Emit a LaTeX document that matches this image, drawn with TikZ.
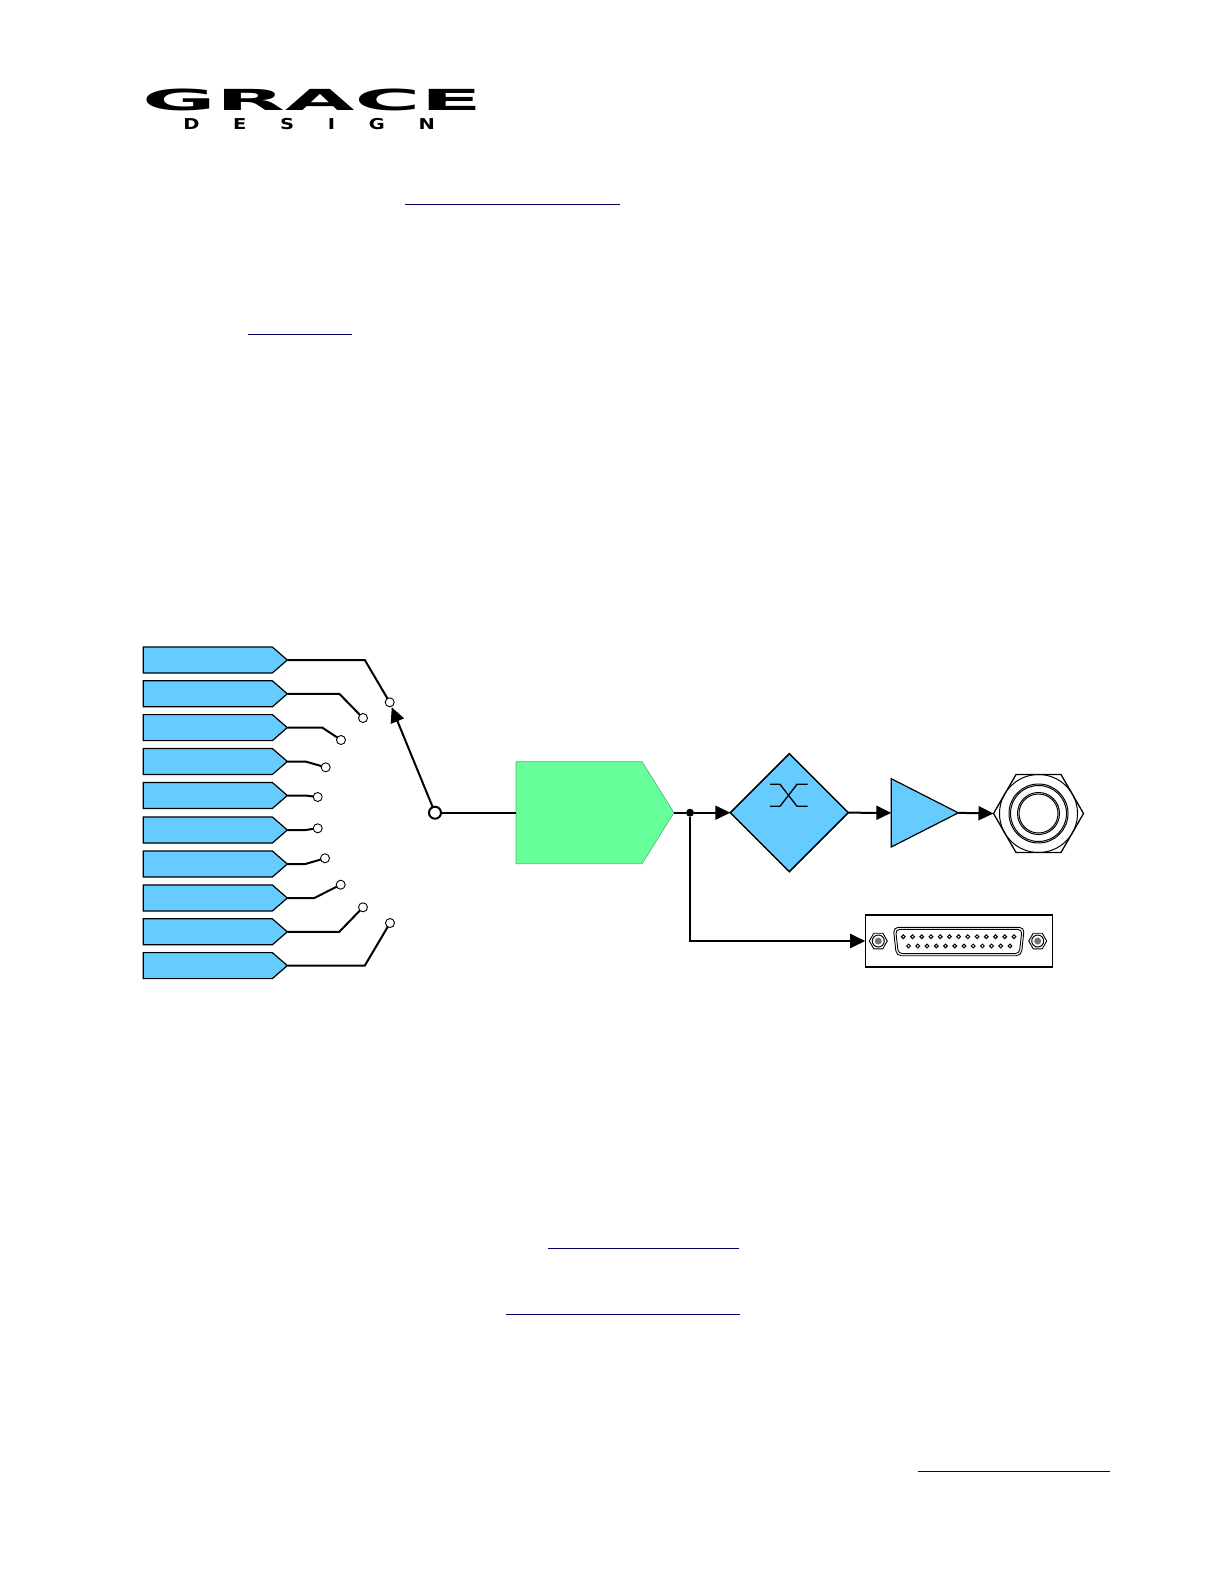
\documentclass[tikz,border=0pt]{standalone}
\usepackage{fontspec}
\usepackage{tikz}
\usetikzlibrary{positioning,shapes.geometric,shapes.symbols,arrows.meta,calc}
\newfontfamily\logofont{DejaVu Sans}
\newfontfamily\logospaced{DejaVu Sans}[LetterSpace=173]
\definecolor{ink}     {HTML}{000000}
\definecolor{skyfill} {HTML}{66CCFF}
\definecolor{mintfill}{HTML}{66FF99}
\definecolor{mintline}{HTML}{55B080}
\definecolor{linkline}{HTML}{000066}
\tikzset{
  >={Triangle[length=15pt,width=14pt]},
  x=1pt, y=-1pt,
  % --- nodes
  tag/.style     = {signal, signal to=east, signal pointer angle=82, draw=ink, fill=skyfill,
                    line width=1.2pt, minimum width=144pt, minimum height=26pt, anchor=west,
                    inner sep=0pt, outer sep=0pt},
  contact/.style = {circle, draw=ink, fill=white, line width=0.9pt, minimum size=9pt,
                    inner sep=0pt, outer sep=0pt},
  common/.style  = {contact, line width=2pt, minimum size=12pt},
  dsp/.style     = {signal, signal to=east, signal pointer angle=116, draw=mintline, fill=mintfill,
                    line width=0.6pt, minimum width=158pt, minimum height=102pt, anchor=west,
                    inner sep=0pt, outer sep=0pt},
  vol/.style     = {diamond, aspect=1, draw=ink, fill=skyfill, line width=1.5pt,
                    minimum size=118pt, inner sep=0pt, outer sep=0pt},
  amp/.style     = {isosceles triangle, isosceles triangle apex angle=54, draw=ink, fill=skyfill,
                    line width=1.2pt, minimum height=67pt, anchor=left corner, inner sep=0pt, outer sep=0pt},
  nut/.style     = {regular polygon, regular polygon sides=6, draw=ink, line width=1.3pt,
                    minimum size=90pt, inner sep=0pt, outer sep=0pt},
  ring/.style    = {circle, draw=ink, line width=1pt, inner sep=0pt, outer sep=0pt},
  panel/.style   = {rectangle, draw=ink, fill=white, line width=1.2pt, minimum width=187pt,
                    minimum height=52pt, inner sep=0pt, outer sep=0pt},
  screw/.style   = {regular polygon, regular polygon sides=6, draw=ink, line width=0.9pt,
                    minimum size=18pt, inner sep=0pt, outer sep=0pt},
  pin/.style     = {circle, draw=ink, fill=white, line width=1pt, minimum size=3.8pt,
                    inner sep=0pt, outer sep=0pt},
  % --- edges
  wire/.style    = {line width=2pt, draw=ink},
  e/.style       = {->, line width=2pt, draw=ink},
  hairline/.style= {line width=1.3pt, draw=ink},
  linkrule/.style= {line width=1pt, draw=linkline},
}
\begin{document}
\begin{tikzpicture}
  \useasboundingbox (0,0) rectangle (1224,1584);
  % logo
  \node[font=\logofont\bfseries\fontsize{29}{29}\selectfont, anchor=base west, xscale=3.1,
        transform shape, inner sep=0pt] (grace) at (141.5,110.7) {GRACE};
  \node[font=\logospaced\bfseries\fontsize{15}{15}\selectfont, anchor=base west, xscale=1.3,
        transform shape, inner sep=0pt] (design) at (183,129.3) {DESIGN};
  % link rules
  \foreach \xa/\xb/\yy in {405/620/204.3,248.3/352/334.3,548.3/739/1248.3,506/739.7/1314.3,918/1110/1471.3}
    \draw[linkrule] (\xa,\yy) -- (\xb,\yy);
  % input tags and their contacts
  \foreach \i/\yy/\dx/\px/\py in {
      1/660/77.5/389.7/702.3, 2/693.8/52/363/718, 3/727.6/35/341/740,
      4/761.5/18/325.7/767.3, 5/795.5/18/317.7/797, 6/830/18/317.7/828.3,
      7/864/18/325/858.3, 8/898/27/340.7/884.7, 9/931.8/52/363/907.3,
      10/965.6/77.5/390/923} {
    \node[tag] (in\i) at (143.3,\yy) {};
    \node[contact] (sw\i) at (\px,\py) {};
    \draw[wire] (in\i.east) -- ++(\dx,0) -- (sw\i);
  }
  \node[common] (com) at (435,812.7) {};
  \node[dsp] (conv) at (516,812.7) {};
  \node[vol] (trim) at (789.3,812.7) {};
  \node[amp] (drv) at (891.3,778.7) {};
  \node[nut] (jack) at (1038.5,813.5) {};
  \node[ring, minimum size=78pt] (jack1) at (jack.center) {};
  \node[ring, minimum size=59pt] (jack2) at (jack.center) {};
  \node[ring, minimum size=56pt] (jack3) at (jack.center) {};
  \node[ring, minimum size=42pt] (jack4) at (jack.center) {};
  \node[ring, minimum size=39pt] (jack5) at (jack.center) {};
  \node[circle, fill=ink, minimum size=8pt, inner sep=0pt] (tap) at (690,812.7) {};
  % crossfade mark
  \draw[hairline] (770,784.3) -- (780,784.3) -- (797,806.3) -- (807.7,806.3);
  \draw[hairline] (770,806.3) -- (780,806.3) -- (797,784.3) -- (807.7,784.3);
  % connector
  \node[panel] (dsub) at (958.7,941) {};
  \draw[line width=0.9pt, rounded corners=5pt, fill=white] (893.3,927.3) -- (1024.3,927.3) -- (1021.3,955.7) -- (896.3,955.7) -- cycle;
  \draw[line width=0.9pt, rounded corners=4pt] (895.6,929.4) -- (1022,929.4) -- (1019.3,953.6) -- (898.3,953.6) -- cycle;
  \foreach \n/\xx in {l/878.3,r/1037.7} {
    \node[screw] (sc\n) at (\xx,941) {};
    \node[ring, minimum size=12pt, line width=1pt] (sca\n) at (sc\n.center) {};
    \node[circle, fill=ink!55, minimum size=7pt, inner sep=0pt] (scb\n) at (sc\n.center) {};
  }
  \foreach \k in {0,...,12}
    \node[pin] (pa\k) at ({903.3+\k*9.22},936.7) {};
  \foreach \k in {0,...,11}
    \node[pin] (pb\k) at ({908.6+\k*9.22},946) {};
  % signal path
  \draw[wire] (com) -- (conv.west);
  \draw[e] (com) -- ($(sw1)!0.045!(com)$);
  \draw[wire] (conv.east) -- (tap);
  \draw[e] (tap) -- (trim.west);
  \draw[e] (trim.east) -- (drv.lower side);
  \draw[e] (drv.apex) -- (jack.west);
  \draw[e] (tap) |- (dsub.west);
\end{tikzpicture}
\end{document}
